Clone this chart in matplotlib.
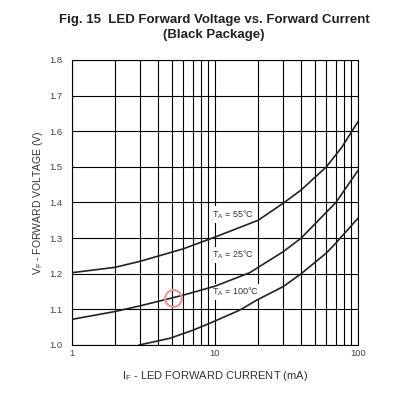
import matplotlib
matplotlib.use("Agg")
import matplotlib.pyplot as plt
from matplotlib.ticker import FixedLocator, NullFormatter

plt.rcParams['font.family'] = ['Liberation Sans', 'DejaVu Sans']

# curve: forward current (mA) vs forward voltage (V)
if_top = [1, 2, 3, 6, 10, 20, 30, 40, 60, 77, 100]
vf_top = [1.203, 1.218, 1.235, 1.270, 1.303, 1.350, 1.398, 1.435, 1.500, 1.555, 1.627]

if_mid = [1, 2, 3, 6, 10, 17.5, 30, 40, 70, 100]
vf_mid = [1.072, 1.094, 1.110, 1.140, 1.165, 1.203, 1.262, 1.300, 1.400, 1.490]

if_bot = [2.95, 4.85, 7.06, 9.7, 14.9, 19.6, 30, 40, 60, 70, 100]
vf_bot = [1.000, 1.019, 1.042, 1.065, 1.098, 1.126, 1.164, 1.200, 1.258, 1.286, 1.356]

curve_labels = ["T$_\\mathregular{A}$ = 55°C", "T$_\\mathregular{A}$ = 25°C", "T$_\\mathregular{A}$ = 100°C"]
label_pos = [(9.6, 1.367), (9.6, 1.253), (9.6, 1.149)]

y_ticks = [1.0, 1.1, 1.2, 1.3, 1.4, 1.5, 1.6, 1.7, 1.8]
x_ticks = [1, 10, 100]
x_grid = [m * 10**k for k in (0, 1) for m in range(1, 10)] + [100]

fig = plt.figure(figsize=(4.15, 3.96), dpi=100)
ax = fig.add_axes([0.1735, 0.1288, 0.6892, 0.7197])

ax.set_xscale('log')
ax.set_xlim(1, 100)
ax.set_ylim(1.0, 1.8)

for xg in x_grid:
    ax.axvline(xg, color='black', lw=0.8, zorder=1)
for yg in y_ticks:
    ax.axhline(yg, color='black', lw=0.8, zorder=1)

for xs, ys in [(if_top, vf_top), (if_mid, vf_mid), (if_bot, vf_bot)]:
    ax.plot(xs, ys, color='#222222', lw=1.2, zorder=4, clip_on=True)

for txt, (x, y) in zip(curve_labels, label_pos):
    ax.text(x, y, txt, fontsize=6.5, color='#333333', va='center', ha='left', zorder=3,
            bbox=dict(facecolor='white', edgecolor='none', pad=1.5))

# faint red marker present on the original
ax.plot([5.09], [1.132], 'o', mfc='none', mec='#e89a9a', ms=12, mew=1.6, zorder=5)

ax.xaxis.set_major_locator(FixedLocator(x_ticks))
ax.xaxis.set_minor_formatter(NullFormatter())
ax.set_xticklabels(['1', '10', '100'])
ax.set_yticks(y_ticks)
ax.set_yticklabels([f'{v:.1f}' for v in y_ticks])
ax.tick_params(axis='both', which='both', length=0, labelsize=6.8, labelcolor='#444444')
ax.tick_params(axis='y', pad=7)
ax.tick_params(axis='x', pad=3)

for sp in ax.spines.values():
    sp.set_color('black')
    sp.set_linewidth(0.8)

ax.set_xlabel('I$_\\mathregular{F}$ - LED FORWARD CURRENT (mA)', fontsize=8, color='#333333', labelpad=8)
ax.set_ylabel('V$_\\mathregular{F}$ - FORWARD VOLTAGE (V)', fontsize=7.5, color='#333333', labelpad=3)

fig.text(0.516, 0.95, 'Fig. 15  LED Forward Voltage vs. Forward Current', ha='center', va='center',
         fontsize=9.5, fontweight='bold', color='#222222')
fig.text(0.516, 0.912, '(Black Package)', ha='center', va='center',
         fontsize=9.5, fontweight='bold', color='#222222')

fig.savefig('out.png', dpi=100)
